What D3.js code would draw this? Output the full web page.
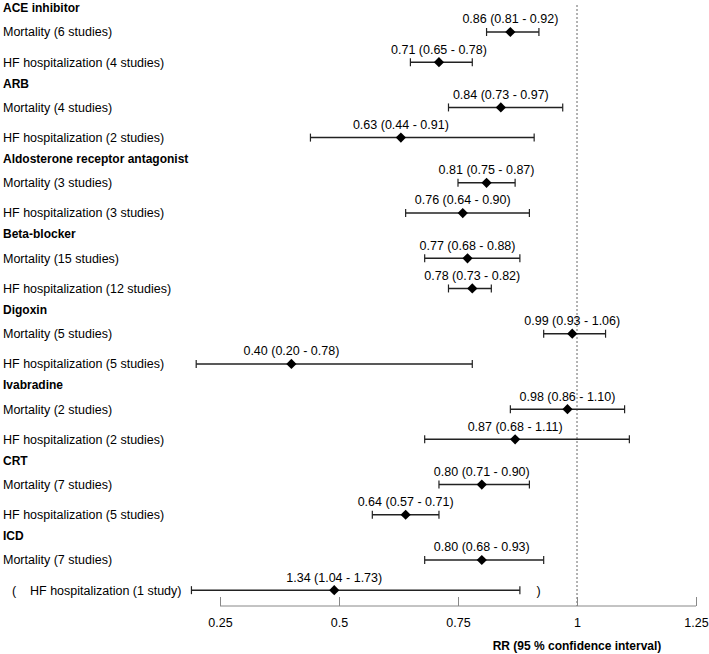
<!DOCTYPE html>
<html>
<head>
<meta charset="utf-8">
<script src="https://cdn.jsdelivr.net/npm/d3@7"></script>
<style>
  body { margin: 0; background: #fff; }
  svg text { font-family: "Liberation Sans", Arial, sans-serif; fill: #000; }
</style>
</head>
<body>
<div id="chart"></div>
<script>
var groups = ["ACE inhibitor", "ARB", "Aldosterone receptor antagonist", "Beta-blocker",
              "Digoxin", "Ivabradine", "CRT", "ICD"];

var mortStudies = [6, 4, 3, 15, 5, 2, 7, 7];
var mortRR = [0.86, 0.84, 0.81, 0.77, 0.99, 0.98, 0.80, 0.80];
var mortLo = [0.81, 0.73, 0.75, 0.68, 0.93, 0.86, 0.71, 0.68];
var mortHi = [0.92, 0.97, 0.87, 0.88, 1.06, 1.10, 0.90, 0.93];

var hfStudies = [4, 2, 3, 12, 5, 2, 5, 1];
var hfRR = [0.71, 0.63, 0.76, 0.78, 0.40, 0.87, 0.64, 1.34];
var hfLo = [0.65, 0.44, 0.64, 0.73, 0.20, 0.68, 0.57, 1.04];
var hfHi = [0.78, 0.91, 0.90, 0.82, 0.78, 1.11, 0.71, 1.73];

// the ICD HF row is drawn off-scale in the original (bracketed row)
var icdHfPlotted = {rr: 0.49, lo: 0.19, hi: 0.88};

var xTicks = [0.25, 0.5, 0.75, 1, 1.25];

var width = 709, height = 654;

var svg = d3.select("#chart").append("svg")
    .attr("width", width)
    .attr("height", height);

var x = d3.scaleLinear().domain([0.25, 1.25]).range([220, 696]);
// group index -> y of the mortality row
var y = d3.scaleLinear().domain([0, 7]).range([32, 560]);

var hfOffset = 0.4, headerOffset = -0.318;
var axisY = 606;

var fmt = d3.format(".2f");

var rows = [];
groups.forEach(function(g, i) {
    rows.push({group: i, off: 0, label: "Mortality (" + mortStudies[i] + " studies)",
               rr: mortRR[i], lo: mortLo[i], hi: mortHi[i],
               prr: mortRR[i], plo: mortLo[i], phi: mortHi[i]});
    var last = i === groups.length - 1;
    rows.push({group: i, off: hfOffset,
               label: "HF hospitalization (" + hfStudies[i] + (hfStudies[i] === 1 ? " study)" : " studies)"),
               rr: hfRR[i], lo: hfLo[i], hi: hfHi[i],
               prr: last ? icdHfPlotted.rr : hfRR[i],
               plo: last ? icdHfPlotted.lo : hfLo[i],
               phi: last ? icdHfPlotted.hi : hfHi[i],
               bracket: last});
});

function rowY(d) { return y(d.group + d.off); }

// reference line at RR = 1
svg.append("line")
    .attr("x1", x(1)).attr("x2", x(1))
    .attr("y1", 5).attr("y2", axisY)
    .attr("stroke", "#666")
    .attr("stroke-width", 1)
    .attr("stroke-dasharray", "2,2");

// x axis
var xAxis = d3.axisTop(x).tickValues(xTicks).tickSize(9).tickFormat(d => String(d));
var ax = svg.append("g")
    .attr("transform", "translate(0," + axisY + ")")
    .call(xAxis);
ax.select(".domain").attr("stroke", "#888").attr("d", "M" + x(0.25) + ",0H" + x(1.25));
ax.selectAll(".tick line").attr("stroke", "#888");
ax.selectAll(".tick text")
    .attr("y", 17)
    .attr("dy", "0.35em")
    .style("font-size", "12.5px")
    .style("font-family", "Liberation Sans, Arial, sans-serif")
    .attr("fill", "#000");

svg.append("text")
    .attr("x", x(1))
    .attr("y", 646)
    .attr("text-anchor", "middle")
    .attr("dy", "0.35em")
    .style("font-size", "12px")
    .style("font-weight", "bold")
    .text("RR (95 % confidence interval)");

// group headers
svg.selectAll(".header")
    .data(groups)
    .enter().append("text")
    .attr("class", "header")
    .attr("x", 3)
    .attr("y", (d, i) => y(i + headerOffset))
    .attr("dy", "0.35em")
    .style("font-size", "12px")
    .style("font-weight", "bold")
    .text(d => d);

// row labels
svg.selectAll(".rowlabel")
    .data(rows)
    .enter().append("text")
    .attr("class", "rowlabel")
    .attr("x", d => d.bracket ? 30 : 3)
    .attr("y", rowY)
    .attr("dy", "0.35em")
    .style("font-size", "12.5px")
    .text(d => d.label);

var bracketRow = rows.filter(d => d.bracket);
svg.selectAll(".bopen")
    .data(bracketRow)
    .enter().append("text")
    .attr("x", 12)
    .attr("y", rowY)
    .attr("dy", "0.35em")
    .style("font-size", "12.5px")
    .text("(");
svg.selectAll(".bclose")
    .data(bracketRow)
    .enter().append("text")
    .attr("x", x(0.915))
    .attr("y", rowY)
    .attr("dy", "0.35em")
    .style("font-size", "12.5px")
    .text(")");

// error bars
var bars = svg.selectAll(".ci")
    .data(rows)
    .enter().append("g")
    .attr("class", "ci");

bars.append("line")
    .attr("x1", d => x(d.plo)).attr("x2", d => x(d.phi))
    .attr("y1", rowY).attr("y2", rowY)
    .attr("stroke", "#222").attr("stroke-width", 1.5);
bars.append("line")
    .attr("x1", d => x(d.plo)).attr("x2", d => x(d.plo))
    .attr("y1", d => rowY(d) - 4).attr("y2", d => rowY(d) + 4)
    .attr("stroke", "#222").attr("stroke-width", 1.2);
bars.append("line")
    .attr("x1", d => x(d.phi)).attr("x2", d => x(d.phi))
    .attr("y1", d => rowY(d) - 4).attr("y2", d => rowY(d) + 4)
    .attr("stroke", "#222").attr("stroke-width", 1.2);

// diamonds
svg.selectAll(".pt")
    .data(rows)
    .enter().append("path")
    .attr("class", "pt")
    .attr("d", d3.symbol(d3.symbolSquare, 52))
    .attr("transform", d => "translate(" + x(d.prr) + "," + rowY(d) + ") rotate(45)")
    .attr("fill", "#000");

// value labels
svg.selectAll(".val")
    .data(rows)
    .enter().append("text")
    .attr("class", "val")
    .attr("x", d => x(d.prr))
    .attr("y", d => rowY(d) - 13)
    .attr("dy", "0.35em")
    .attr("text-anchor", "middle")
    .style("font-size", "12.5px")
    .text(d => fmt(d.rr) + " (" + fmt(d.lo) + " - " + fmt(d.hi) + ")");
</script>
</body>
</html>
